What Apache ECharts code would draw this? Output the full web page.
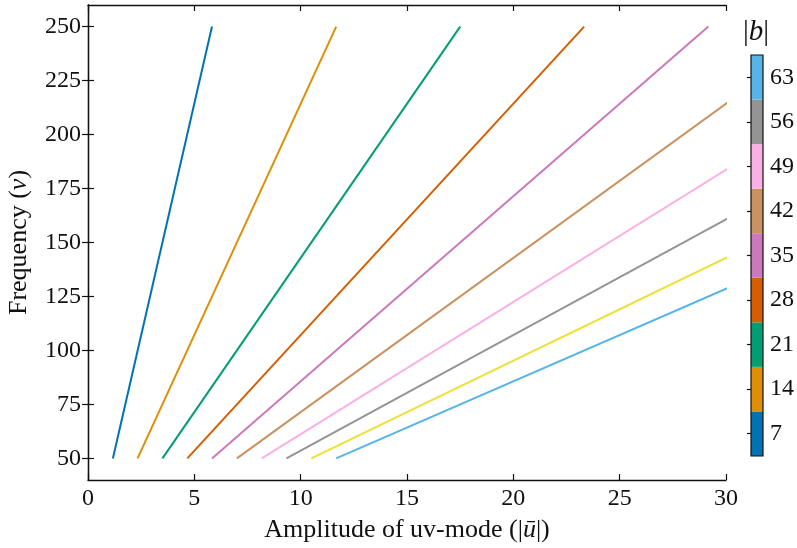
<!DOCTYPE html>
<html>
<head>
<meta charset="utf-8">
<script src="https://cdn.jsdelivr.net/npm/echarts@6/dist/echarts.min.js"></script>
<style>
  html, body { margin: 0; padding: 0; background: #fff; }
  #chart { width: 797px; height: 548px; }
</style>
</head>
<body>
<div id="chart"></div>
<script>
// Baseline lengths |b| for each track
const baselines = [7, 14, 21, 28, 35, 42, 49, 56, 63, 70];
// Frequency range of each track
const freqRange = [50, 250];
// uv-mode amplitude at the lowest and highest frequency
const uLow  = [1.17, 2.33, 3.50, 4.67, 5.83, 7.00, 8.17, 9.33, 10.50, 11.67];
const uHigh = [5.83, 11.67, 17.50, 23.33, 29.17, 35.00, 40.83, 46.67, 52.50, 58.33];
// Line colours
const lineColors = ['#0173B2', '#DE8F05', '#029E73', '#D55E00', '#CC78BC',
                    '#CA9161', '#FBAFE4', '#949494', '#ECE133', '#56B4E9'];
// Colour bar entries and tick labels
const barValues = [7, 14, 21, 28, 35, 42, 49, 56, 63];
const barColors = ['#0173B2', '#DE8F05', '#029E73', '#D55E00', '#CC78BC',
                   '#CA9161', '#FBAFE4', '#949494', '#56B4E9'];
const xTicks = [0, 5, 10, 15, 20, 25, 30];
const yTicks = [50, 75, 100, 125, 150, 175, 200, 225, 250];

const FONT = 'Liberation Serif';
const INK = '#111';

const chart = echarts.init(document.getElementById('chart'), null, { renderer: 'canvas' });

const lineSeries = baselines.map((b, i) => ({
  type: 'line',
  name: '|b|=' + b,
  xAxisIndex: 0, yAxisIndex: 0,
  data: [[uLow[i], freqRange[0]], [uHigh[i], freqRange[1]]],
  showSymbol: false,
  clip: true,
  lineStyle: { color: lineColors[i], width: 2 },
  silent: true
}));

// Colour bar blocks, one per baseline entry, plus an outline on top
const half = (barValues[1] - barValues[0]) / 2;
const bands = barValues.map((v, i) => [
  { yAxis: v - half, itemStyle: { color: barColors[i] } },
  { yAxis: v + half }
]);
bands.push([
  { yAxis: barValues[0] - half, itemStyle: { color: 'rgba(0,0,0,0)', borderColor: INK, borderWidth: 1.2 } },
  { yAxis: barValues[barValues.length - 1] + half }
]);

function tick(values, len) {
  const t = { show: true, inside: true, length: len, lineStyle: { color: INK, width: 1.2 } };
  if (values) t.customValues = values;
  return t;
}
const axisLine = { show: true, lineStyle: { color: INK, width: 1.3 } };
const labelStyle = { fontFamily: FONT, fontSize: 24, color: INK };
const titleRich = {
  n: { fontFamily: FONT, fontSize: 26, color: INK },
  i: { fontFamily: FONT, fontSize: 26, color: INK, fontStyle: 'italic' }
};

chart.setOption({
  animation: false,
  backgroundColor: '#fff',
  // Colour bar heading
  title: {
    text: '{v||}{i|b}{v||}',
    left: 743, top: 18, padding: 0,
    textStyle: {
      fontWeight: 'normal',
      rich: {
        v: { fontFamily: FONT, fontSize: 29, fontWeight: 'normal', color: INK },
        i: { fontFamily: FONT, fontSize: 29, fontWeight: 'normal', color: INK, fontStyle: 'italic' }
      }
    }
  },
  grid: [
    { left: 88, right: 71, top: 5, bottom: 68, outerBoundsMode: 'none' },
    { left: 751, width: 12, top: 55, bottom: 92, outerBoundsMode: 'none' }
  ],
  xAxis: [
    {
      type: 'value', gridIndex: 0, min: 0, max: 30, position: 'bottom',
      axisLine, axisTick: tick(xTicks, 6), splitLine: { show: false },
      axisLabel: Object.assign({ margin: 7, customValues: xTicks }, labelStyle),
      name: '{n|Amplitude of uv-mode (|}{i|ū}{n||)}',
      nameLocation: 'middle', nameGap: 37,
      nameTextStyle: { rich: titleRich }
    },
    {
      type: 'value', gridIndex: 0, min: 0, max: 30, position: 'top',
      axisLine, axisTick: tick(xTicks, 6), axisLabel: { show: false }, splitLine: { show: false }
    },
    {
      type: 'value', gridIndex: 1, min: 0, max: 1, show: false
    }
  ],
  yAxis: [
    {
      type: 'value', gridIndex: 0, min: 40, max: 260, position: 'left',
      axisLine, splitLine: { show: false },
      axisTick: tick(yTicks, 6),
      axisLabel: Object.assign({ margin: 7, customValues: yTicks }, labelStyle),
      name: '{n|Frequency (}{i|ν}{n|)}',
      nameLocation: 'middle', nameGap: 56, nameRotate: 90,
      nameTextStyle: { rich: titleRich }
    },
    {
      type: 'value', gridIndex: 0, min: 40, max: 260, position: 'right',
      axisLine, splitLine: { show: false },
      axisTick: tick(yTicks, 6),
      axisLabel: { show: false }
    },
    {
      type: 'value', gridIndex: 1, min: 3.5, max: 66.5, position: 'right',
      axisLine: { show: false }, splitLine: { show: false },
      axisTick: tick(barValues, 4),
      axisLabel: Object.assign({ margin: 7, customValues: barValues }, labelStyle)
    }
  ],
  series: lineSeries.concat([{
    type: 'line',
    xAxisIndex: 2, yAxisIndex: 2,
    data: [],
    silent: true,
    markArea: { silent: true, data: bands, label: { show: false } }
  }])
});
</script>
</body>
</html>
